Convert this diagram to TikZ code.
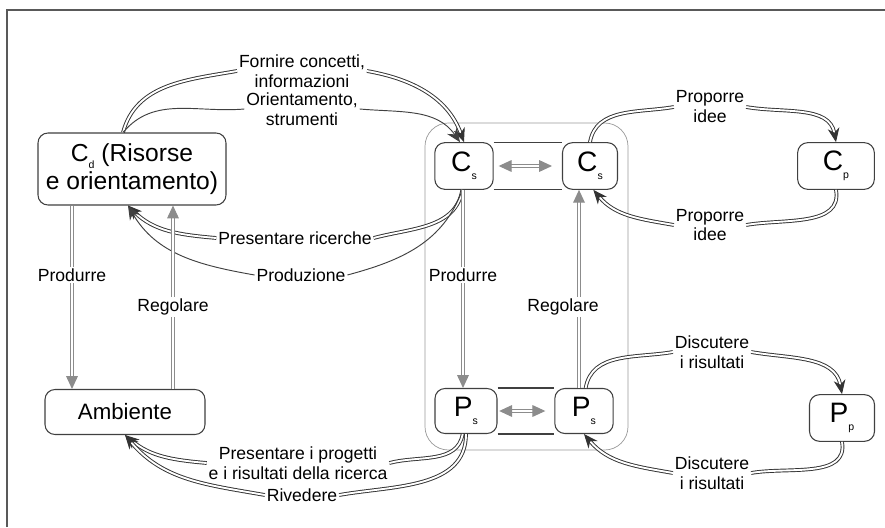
\documentclass[tikz,border=0pt]{standalone}
\usepackage{fontspec}
\setmainfont{Liberation Sans}
\usetikzlibrary{arrows.meta}
\newcommand{\lowidx}[1]{\raisebox{-0.55ex}{\fontsize{9}{9}\selectfont #1}}
\tikzset{
  box/.style={draw=black!75, line width=0.9pt, rounded corners=0.3cm, fill=white, align=center, inner sep=0pt},
  smallbox/.style={box, minimum width=1.75cm, minimum height=1.4cm, font=\fontsize{24}{26}\selectfont},
  lbl/.style={font=\fontsize{15}{17}\selectfont, align=center, inner sep=1.5pt},
  lblw/.style={lbl, fill=white},
  dbl/.style={draw=black!80, double=white, double distance=1.6pt, line width=0.8pt, -{Stealth[length=12pt,width=10pt]}},
  sgl/.style={draw=black!75, line width=0.8pt, -{Stealth[length=12pt,width=10pt]}},
  gdbl/.style={draw=black!45, double=white, double distance=1.8pt, line width=0.9pt, -{Triangle[length=11pt,width=10pt]}},
  rowline/.style={draw=black!75, line width=1pt},
}
\begin{document}
\begin{tikzpicture}
  \useasboundingbox (0,0) rectangle (26.55,15.81);
  \draw[black!65, line width=1.2pt] (0.21,0) -- (0.21,15.51) -- (26.55,15.51);
  \draw[black!40, line width=0.6pt, rounded corners=0.7cm] (12.75,2.31) rectangle (18.84,12.12);

  \node[box, minimum width=5.64cm, minimum height=2.16cm, font=\fontsize{21}{24}\selectfont] (cd) at (3.96,10.74)
    {C\lowidx{d} (Risorse\\e orientamento)};
  \node[box, minimum width=4.8cm, minimum height=1.35cm, font=\fontsize{19}{22}\selectfont] (amb) at (3.75,3.45) {Ambiente};
  \node[smallbox] (cs1) at (13.92,10.83) {C\lowidx{s}};
  \node[smallbox, minimum width=1.65cm] (cs2) at (17.70,10.83) {C\lowidx{s}};
  \node[smallbox, minimum width=2.3cm] (cp) at (25.08,10.83) {C\lowidx{p}};
  \node[smallbox, minimum width=1.86cm, minimum height=1.35cm] (ps1) at (13.98,3.48) {P\lowidx{s}};
  \node[smallbox, minimum height=1.35cm] (ps2) at (17.52,3.48) {P\lowidx{s}};
  \node[smallbox, minimum width=1.95cm] (pp) at (25.26,3.27) {P\lowidx{p}};
  \draw[rowline] (cs1.north east) -- (cs2.north west);
  \draw[rowline] (cs1.south east) -- (cs2.south west);
  \draw[rowline] (ps1.north east) -- (ps2.north west);
  \draw[rowline] (ps1.south east) -- (ps2.south west);

  \node[lbl] (lforn) at (9.06,13.68) {Fornire concetti,\\informazioni};
  \node[lbl] (lorient) at (9.06,12.54) {Orientamento,\\strumenti};
  \node[lbl] (lpres) at (8.85,8.67) {Presentare ricerche};
  \node[lbl] (lprodz) at (9.03,7.56) {Produzione};
  \node[lbl] (lprop1) at (21.3,12.6) {Proporre\\idee};
  \node[lbl] (lprop2) at (21.3,9.06) {Proporre\\idee};
  \node[lbl] (ldisc1) at (21.36,5.25) {Discutere\\i risultati};
  \node[lbl] (ldisc2) at (21.36,1.62) {Discutere\\i risultati};
  \node[lbl] (lprog) at (8.94,1.92) {Presentare i progetti\\e i risultati della ricerca};
  \node[lbl] (lriv) at (9.06,0.96) {Rivedere};

  \coordinate (cdtop) at ([xshift=-0.27cm]cd.north);
  \coordinate (cdbot) at ([xshift=-0.12cm]cd.south);
  \draw[dbl, -] (cdtop) to[out=75,in=190] (lforn.west);
  \draw[dbl] (lforn.east) to[out=-10,in=110] (cs1.north);
  \draw[sgl, -] (cdtop) to[out=50,in=185] (lorient.west);
  \draw[sgl] (lorient.east) to[out=-5,in=125] ([xshift=-0.12cm]cs1.north);
  \draw[dbl, -] ([xshift=-0.05cm]cs1.south) to[out=-100,in=15] (lpres.east);
  \draw[dbl] (lpres.west) to[out=175,in=-45] (cdbot);
  \draw[sgl, -] ([xshift=-0.05cm]cs1.south) to[out=-110,in=15] (lprodz.east);
  \draw[sgl] (lprodz.west) to[out=170,in=-60] (cdbot);

  \coordinate (p1) at ([xshift=-1.8cm]cd.south);
  \coordinate (r1) at ([xshift=1.44cm]amb.north);
  \coordinate (p2) at ([xshift=-0.03cm]cs1.south);
  \coordinate (r2) at ([xshift=-0.15cm]ps2.north);
  \draw[gdbl] (p1) -- (p1 |- amb.north);
  \draw[gdbl] (r1) -- (r1 |- cd.south);
  \draw[gdbl] (p2) -- (p2 |- ps1.north);
  \draw[gdbl] (r2) -- (r2 |- cs2.south);
  \node[lblw] (lprod1) at (2.16,7.56) {Produrre};
  \node[lblw] (lreg1) at (5.19,6.6) {Regolare};
  \node[lblw] (lprod2) at (13.89,7.56) {Produrre};
  \node[lblw] (lreg2) at (16.89,6.6) {Regolare};

  \draw[gdbl, {Triangle[length=11pt,width=10pt]}-{Triangle[length=11pt,width=10pt]}, shorten <=0.15cm, shorten >=0.3cm] (cs1.east) -- (cs2.west);
  \draw[gdbl, {Triangle[length=11pt,width=10pt]}-{Triangle[length=11pt,width=10pt]}, shorten <=0.05cm, shorten >=0.27cm] (ps1.east) -- (ps2.west);

  \draw[dbl, -] (cs2.north) to[out=80,in=190] (lprop1.west);
  \draw[dbl] (lprop1.east) to[out=-10,in=100] (cp.north);
  \draw[dbl, -] (cp.south) to[out=-80,in=10] (lprop2.east);
  \draw[dbl] (lprop2.west) to[out=170,in=-50] ([xshift=0.1cm]cs2.south);
  \draw[dbl, -] ([xshift=0.05cm]ps2.north) to[out=80,in=190] (ldisc1.west);
  \draw[dbl] (ldisc1.east) to[out=-10,in=100] (pp.north);
  \draw[dbl, -] (pp.south) to[out=-80,in=10] (ldisc2.east);
  \draw[dbl] (ldisc2.west) to[out=170,in=-50] (ps2.south);
  \draw[dbl, -] ([xshift=-0.1cm]ps1.south) to[out=-100,in=15] (lprog.east);
  \draw[dbl] (lprog.west) to[out=175,in=-40] (amb.south);
  \draw[dbl, -] (ps1.south) to[out=-90,in=10] (lriv.east);
  \draw[dbl] (lriv.west) to[out=170,in=-50] (amb.south);
\end{tikzpicture}
\end{document}
